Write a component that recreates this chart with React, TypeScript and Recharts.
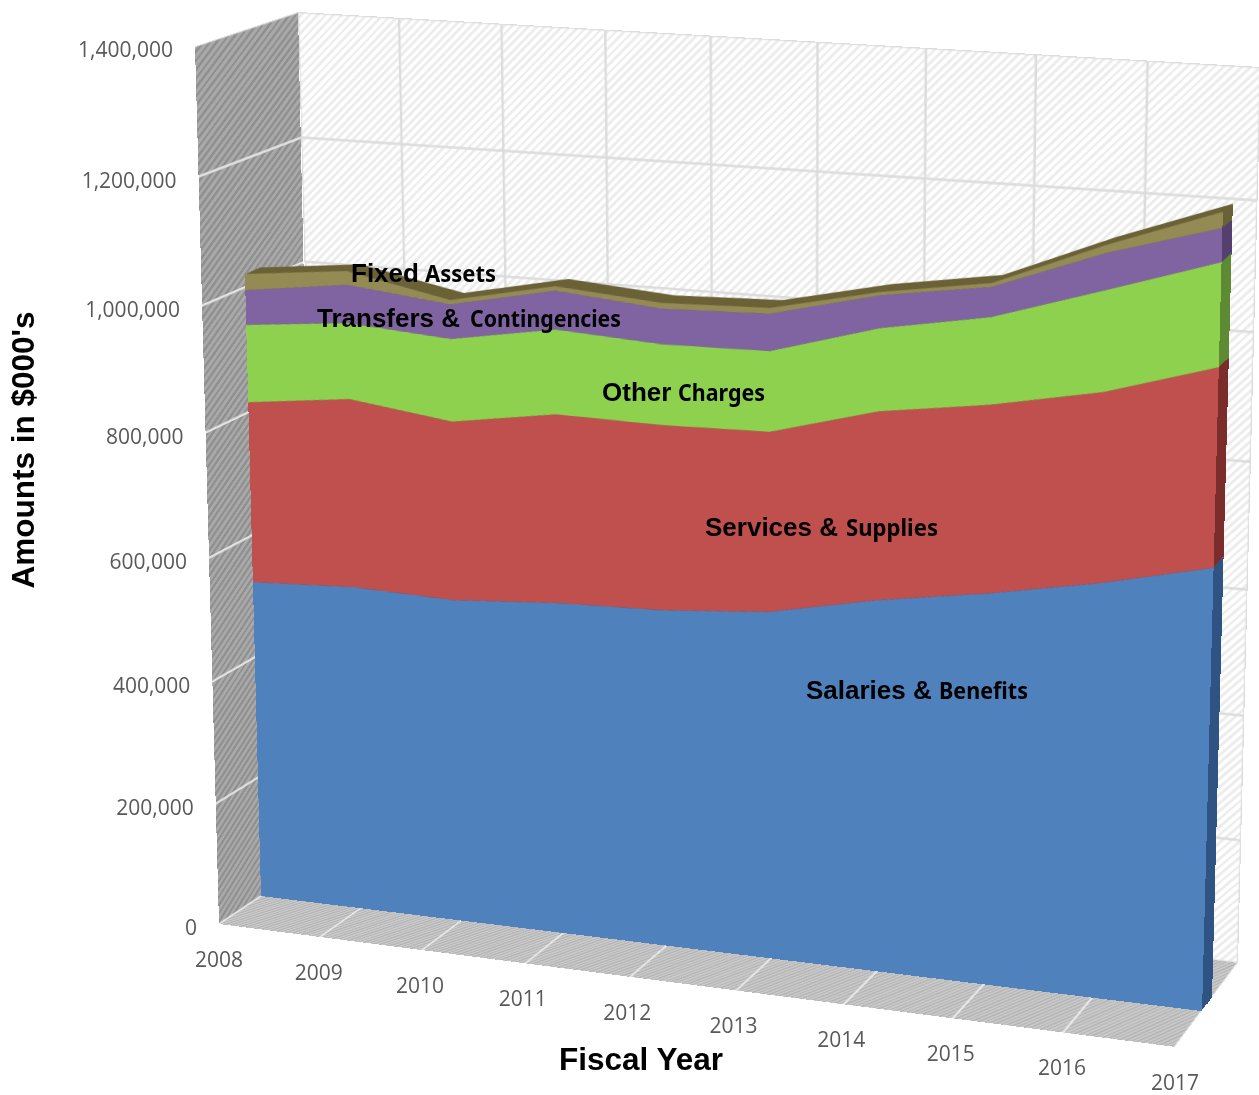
import { AreaChart, Area, LineChart, Line, XAxis, YAxis, CartesianGrid } from "recharts";

const years = ["2008", "2009", "2010", "2011", "2012", "2013", "2014", "2015", "2016", "2017"];
const salaries = [524000, 532000, 527000, 539000, 544000, 558000, 593000, 620000, 652000, 692000];
const services = [292000, 303000, 286000, 300000, 292000, 282000, 293000, 290000, 291000, 302000];
const otherCharges = [124000, 121000, 131000, 133000, 126000, 125000, 127000, 133000, 153000, 156000];
const transfers = [55000, 60000, 54000, 60000, 55000, 57000, 50000, 45000, 55000, 50000];
const fixedAssets = [26000, 22000, 7000, 7000, 9000, 9000, 5000, 6000, 12000, 24000];
const valueTicks = [0, 200000, 400000, 600000, 800000, 1000000, 1200000, 1400000];

const rows = years.map((year, i) => ({
  year,
  salaries: salaries[i],
  services: services[i],
  otherCharges: otherCharges[i],
  transfers: transfers[i],
  fixedAssets: fixedAssets[i],
}));

const seriesKeys = ["salaries", "services", "otherCharges", "transfers", "fixedAssets"];
const faceColors = ["#4f81bd", "#c0504d", "#8ed14f", "#8064a2", "#948a54"];
const sideColors = ["#2f5483", "#7b2d2b", "#5f8a34", "#54406f", "#6a6136"];

// =====================================
// PLANES (corners: TL, TR, BR, BL)
// =====================================
type Pt = [number, number];

const backWall: Pt[] = [[298, 12], [1261, 67], [1238, 963], [320, 857]];
const sideWall: Pt[] = [[195, 46], [298, 12], [316.5, 859], [219, 924]];
const floor: Pt[] = [[329, 851], [1238, 963], [1175, 1047], [219, 924]];
const frontFace: Pt[] = [[238.7, 32], [1226, 91], [1202, 1011], [261, 896]];
const rearFace: Pt[] = [[253.7, 27], [1236, 84], [1212, 998], [274, 887]];
const axisPlane: Pt[] = [[195, 46], [1200, 108], [1175, 1047], [219, 924]];

const PLANE_W = 1000;
const PLANE_H = 900;
const PAGE_W = 1259;
const PAGE_H = 1095;
const AXIS_GUTTER = 2;
const DEPTH_STEPS = 9;

function homography(q: Pt[]) {
  const [[x0, y0], [x1, y1], [x2, y2], [x3, y3]] = q;
  const dx1 = x1 - x2;
  const dx2 = x3 - x2;
  const sx = x0 - x1 + x2 - x3;
  const dy1 = y1 - y2;
  const dy2 = y3 - y2;
  const sy = y0 - y1 + y2 - y3;
  const det = dx1 * dy2 - dx2 * dy1;
  const g = (sx * dy2 - dx2 * sy) / det;
  const h = (dx1 * sy - sx * dy1) / det;
  return {
    a: x1 - x0 + g * x1,
    b: x3 - x0 + h * x3,
    c: x0,
    d: y1 - y0 + g * y1,
    e: y3 - y0 + h * y3,
    f: y0,
    g,
    h,
  };
}

function planeTransform(q: Pt[], w: number, h: number) {
  const m = homography(q);
  return `matrix3d(${[
    m.a / w, m.d / w, 0, m.g / w,
    m.b / h, m.e / h, 0, m.h / h,
    0, 0, 1, 0,
    m.c, m.f, 0, 1,
  ].join(",")})`;
}

function project(q: Pt[], u: number, v: number): Pt {
  const m = homography(q);
  const w = m.g * u + m.h * v + 1;
  return [(m.a * u + m.b * v + m.c) / w, (m.d * u + m.e * v + m.f) / w];
}

function Plane({ quad, w, h, background, children }: any) {
  return (
    <div
      style={{
        position: "absolute",
        left: 0,
        top: 0,
        width: w,
        height: h,
        background,
        transformOrigin: "0 0",
        transform: planeTransform(quad, w, h),
      }}
    >
      {children}
    </div>
  );
}

function hatch(base: string, line: string, period: number) {
  return `repeating-linear-gradient(135deg, ${base} 0px, ${base} ${period * 0.55}px, ${line} ${period * 0.55}px, ${line} ${period}px)`;
}

const GRID_COLOR = "#dcdcdc";

function StackedAreas({ colors }: { colors: string[] }) {
  return (
    <AreaChart width={PLANE_W} height={PLANE_H} data={rows} margin={{ top: 0, right: 0, bottom: 0, left: 0 }}>
      <XAxis dataKey="year" hide scale="point" padding={{ left: 0, right: 0 }} />
      <YAxis hide domain={[0, 1400000]} />
      {seriesKeys.map((key, i) => (
        <Area
          key={key}
          dataKey={key}
          stackId="budget"
          type="linear"
          fill={colors[i]}
          fillOpacity={1}
          stroke="none"
          dot={false}
          activeDot={false}
          isAnimationActive={false}
        />
      ))}
    </AreaChart>
  );
}

// a series nobody sees, so the value axis has something to scale
function ScaleHolder() {
  return <Line dataKey="salaries" stroke="none" dot={false} activeDot={false} isAnimationActive={false} />;
}

function YTick({ y, payload }: any) {
  const [px, py] = project(axisPlane, 0, y / (PAGE_H - AXIS_GUTTER));
  return (
    <text x={px - 22} y={py + 11} textAnchor="end" fontFamily="Open Sans" fontSize={21} fill="#595959">
      {Number(payload.value).toLocaleString("en-US")}
    </text>
  );
}

function XTick({ x, payload }: any) {
  const [px, py] = project(axisPlane, (x - AXIS_GUTTER) / (PAGE_W - AXIS_GUTTER), 1);
  return (
    <text x={px} y={py + 43} textAnchor="middle" fontFamily="Open Sans" fontSize={21} fill="#595959">
      {payload.value}
    </text>
  );
}

function MixedLabel({ x, y, bold, rest, restX, restWidth }: any) {
  return (
    <g fill="#000000">
      <text x={x} y={y} fontFamily="Liberation Sans" fontWeight={700} fontSize={26}>
        {bold}
      </text>
      <text
        x={restX}
        y={y}
        fontFamily="Noto Sans"
        fontWeight={700}
        fontSize={23}
        textLength={restWidth}
        lengthAdjust="spacingAndGlyphs"
      >
        {rest}
      </text>
    </g>
  );
}

export default function App() {
  const depths = Array.from({ length: DEPTH_STEPS }, (_, i) => 1 - i / DEPTH_STEPS);

  return (
    <div
      style={{
        position: "absolute",
        left: 0,
        top: 0,
        width: PAGE_W,
        height: PAGE_H,
        overflow: "hidden",
        background: "#ffffff",
      }}
    >
      {/* back wall */}
      <Plane quad={backWall} w={PLANE_W} h={PLANE_H} background={hatch("#ffffff", "#ececec", 6)}>
        <LineChart width={PLANE_W} height={PLANE_H} data={rows} margin={{ top: 0, right: 0, bottom: 0, left: 0 }}>
          <XAxis dataKey="year" hide scale="point" padding={{ left: 0, right: 0 }} />
          <YAxis hide domain={[0, 1400000]} ticks={valueTicks} />
          <CartesianGrid stroke={GRID_COLOR} strokeWidth={2.5} />
          {ScaleHolder()}
        </LineChart>
      </Plane>

      {/* side wall */}
      <Plane quad={sideWall} w={100} h={PLANE_H} background={hatch("#a9a9a9", "#8f8f8f", 6)}>
        <LineChart width={100} height={PLANE_H} data={rows} margin={{ top: 0, right: 0, bottom: 0, left: 0 }}>
          <XAxis dataKey="year" hide scale="point" padding={{ left: 0, right: 0 }} />
          <YAxis hide domain={[0, 1400000]} ticks={valueTicks} />
          <CartesianGrid stroke="#e4e4e4" strokeWidth={2.5} vertical={false} />
          {ScaleHolder()}
        </LineChart>
      </Plane>

      {/* floor */}
      <Plane quad={floor} w={PLANE_W} h={100} background={hatch("#c9c9c9", "#b5b5b5", 4)}>
        <LineChart width={PLANE_W} height={100} data={rows} margin={{ top: 0, right: 0, bottom: 0, left: 0 }}>
          <XAxis dataKey="year" hide scale="point" padding={{ left: 0, right: 0 }} />
          <YAxis hide domain={[0, 1400000]} />
          <CartesianGrid stroke="#e8e8e8" strokeWidth={2.5} horizontal={false} />
          {ScaleHolder()}
        </LineChart>
      </Plane>

      {/* depth of the series, back to front */}
      {depths.map((t) => {
        const quad = frontFace.map((p, i): Pt => [
          p[0] + (rearFace[i][0] - p[0]) * t,
          p[1] + (rearFace[i][1] - p[1]) * t,
        ]);
        return (
          <Plane key={t} quad={quad} w={PLANE_W} h={PLANE_H}>
            <StackedAreas colors={sideColors} />
          </Plane>
        );
      })}

      {/* front face */}
      <Plane quad={frontFace} w={PLANE_W} h={PLANE_H}>
        <StackedAreas colors={faceColors} />
      </Plane>

      {/* axis labels */}
      <div style={{ position: "absolute", left: 0, top: 0 }}>
        <LineChart width={PAGE_W} height={PAGE_H} data={rows} margin={{ top: 0, right: 0, bottom: 0, left: 0 }}>
          <XAxis
            dataKey="year"
            scale="point"
            padding={{ left: 0, right: 0 }}
            height={AXIS_GUTTER}
            interval={0}
            axisLine={false}
            tickLine={false}
            tick={XTick}
          />
          <YAxis
            domain={[0, 1400000]}
            ticks={valueTicks}
            width={AXIS_GUTTER}
            interval={0}
            axisLine={false}
            tickLine={false}
            tick={YTick}
          />
          {ScaleHolder()}
        </LineChart>
      </div>

      {/* series names and titles */}
      <svg width={PAGE_W} height={PAGE_H} style={{ position: "absolute", left: 0, top: 0 }}>
        <MixedLabel x={351} y={282} bold="Fixed" rest="Assets" restX={425} restWidth={71} />
        <MixedLabel x={317} y={327} bold="Transfers &" rest="Contingencies" restX={470} restWidth={151} />
        <MixedLabel x={602} y={401} bold="Other" rest="Charges" restX={678} restWidth={87} />
        <MixedLabel x={705} y={536} bold="Services &" rest="Supplies" restX={846} restWidth={92} />
        <MixedLabel x={806} y={699} bold="Salaries &" rest="Benefits" restX={939} restWidth={89} />
        <text
          x={641}
          y={1070}
          textAnchor="middle"
          fontFamily="Liberation Sans"
          fontWeight={700}
          fontSize={31.5}
          fill="#000000"
        >
          Fiscal Year
        </text>
        <text
          transform="translate(34 450) rotate(-90)"
          textAnchor="middle"
          fontFamily="Liberation Sans"
          fontWeight={700}
          fontSize={31.5}
          fill="#000000"
        >
          Amounts in $000's
        </text>
      </svg>
    </div>
  );
}
